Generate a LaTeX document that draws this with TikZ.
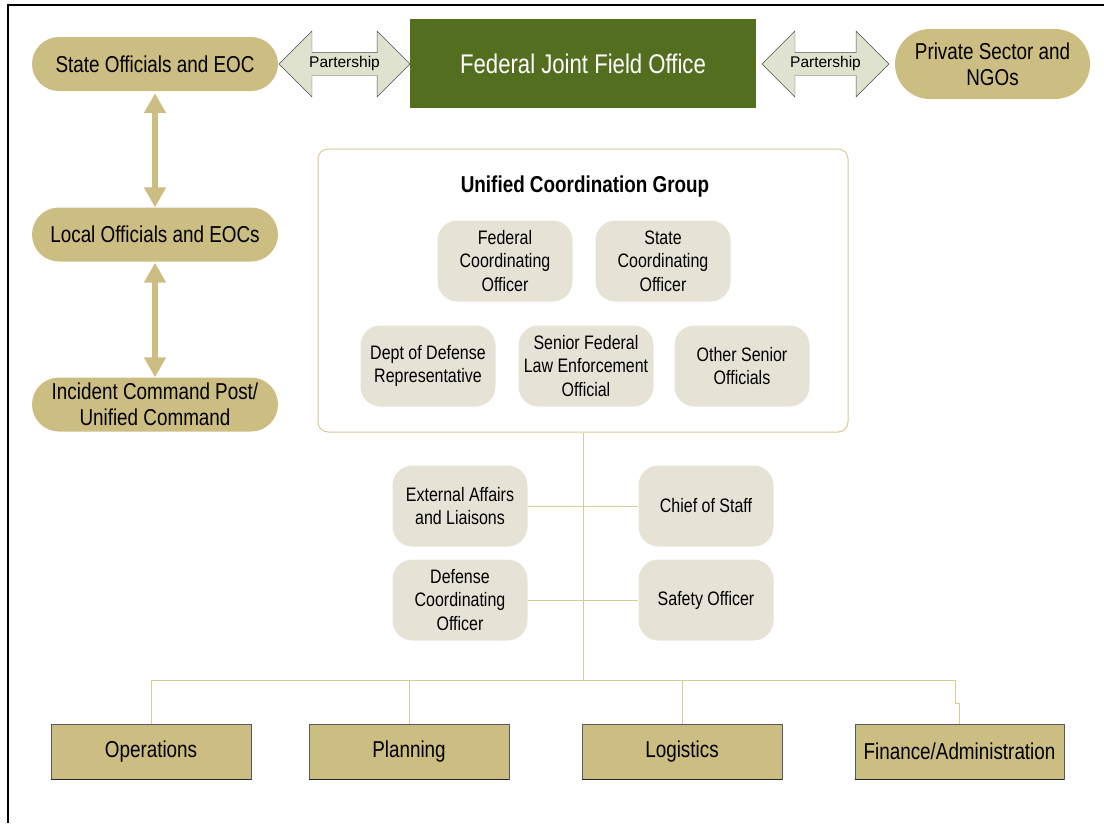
\documentclass[tikz,border=0pt]{standalone}
\usepackage{fontspec}
\setmainfont[FakeStretch=0.82]{Liberation Sans}
\newfontfamily\widefont{Liberation Sans}
\usepackage{xcolor}
\usetikzlibrary{shapes.arrows, arrows.meta}

\definecolor{tanfill}{RGB}{204,189,131}
\definecolor{beige}{RGB}{230,226,213}
\definecolor{olive}{RGB}{84,110,31}
\definecolor{partfill}{RGB}{222,226,206}
\definecolor{linecol}{RGB}{216,202,150}

\tikzset{
    pill/.style={fill=tanfill, rounded corners=27pt, minimum width=246pt, minimum height=54pt,
        inner sep=0pt, align=center, font=\fontsize{23}{26}\selectfont},
    member/.style={fill=beige, rounded corners=20pt, minimum width=135pt, minimum height=81pt,
        inner sep=0pt, align=center, font=\fontsize{19.5}{23.5}\selectfont},
    section/.style={fill=tanfill, draw=black!65, line width=0.8pt, minimum width=200pt,
        minimum height=55pt, inner sep=0pt, font=\fontsize{23}{26}\selectfont},
    partner/.style={double arrow, draw=black!70, fill=partfill, double arrow head extend=21.5pt,
        double arrow tip angle=90, inner xsep=0pt, inner ysep=4.5pt, text height=10pt,
        text depth=3.5pt, font=\widefont\fontsize{15.5}{17}\selectfont},
    conn/.style={draw=linecol, line width=1pt},
    updown/.style={draw=tanfill, line width=6pt,
        {Triangle[width=21pt,length=20pt]}-{Triangle[width=21pt,length=20pt]}}
}

\begin{document}
\begin{tikzpicture}[x=1pt, y=-1pt]
    \useasboundingbox (0,0) rectangle (1104,823);
    \draw[line width=2.5pt] (8,823) -- (8,5) -- (1104,5);

    % top row
    \node[pill] (state) at (155,64) {State Officials and EOC};
    \node[fill=olive, text=white, minimum width=346pt, minimum height=89pt, inner sep=0pt,
        font=\fontsize{27}{30}\selectfont] (fjfo) at (583,63.5) {Federal Joint Field Office};
    \node[pill, minimum width=195pt, minimum height=70pt, rounded corners=35pt] (private)
        at (992.5,64) {Private Sector and\\NGOs};
    \node[partner, minimum height=131pt] (partl) at (344.5,64) {Partership};
    \node[partner, minimum height=127pt] (partr) at (825.5,64) {Partership};

    % left column
    \node[pill] (local) at (155,234.5) {Local Officials and EOCs};
    \node[pill] (icp) at (155,404.5) {Incident Command Post/\\Unified Command};
    \draw[updown, shorten <=2pt] (state.south) -- (local.north);
    \draw[updown, shorten <=1pt] (local.south) -- (icp.north);

    % unified coordination group
    \node[draw=linecol, line width=1pt, rounded corners=10pt, minimum width=530pt,
        minimum height=283pt] (ucg) at (583,290.5) {};
    \node[font=\bfseries\fontsize{23}{26}\selectfont] (ucgtitle) at (585,187)
        {Unified Coordination Group};
    \node[member] (fco) at (505,261) {Federal\\Coordinating\\Officer};
    \node[member] (sco) at (663,261) {State\\Coordinating\\Officer};
    \node[member] (dod) at (428,366) {Dept of Defense\\Representative};
    \node[member] (sfleo) at (586,366) {Senior Federal\\Law Enforcement\\Official};
    \node[member] (oso) at (742,366) {Other Senior\\Officials};

    % command staff
    \coordinate (bus) at (583,680);
    \coordinate (jog) at (955,703);
    \draw[conn] (ucg.south) -- (bus);
    \node[member] (ext) at (460,506) {External Affairs\\and Liaisons};
    \node[member] (cos) at (706,506) {Chief of Staff};
    \node[member] (dco) at (460,600) {Defense\\Coordinating\\Officer};
    \node[member] (safety) at (706,600) {Safety Officer};
    \draw[conn] (ext.east) -- (cos.west);
    \draw[conn] (dco.east) -- (safety.west);

    % general staff
    \node[section] (ops) at (151,751.5) {Operations};
    \node[section] (plan) at (409,751.5) {Planning};
    \node[section] (logi) at (682,751.5) {Logistics};
    \node[section, minimum width=209pt] (fin) at (959.5,751.5) {Finance/Administration};
    \foreach \sec in {ops,plan,logi,fin}{
        \draw[black!85, line width=1.5pt] (\sec.south west) -- (\sec.south east);
    }
    \foreach \sec in {ops,plan,logi}{
        \draw[conn] (\sec.north) |- (bus);
    }
    \draw[conn] (bus) -| (jog) -| (fin.north);
\end{tikzpicture}
\end{document}
